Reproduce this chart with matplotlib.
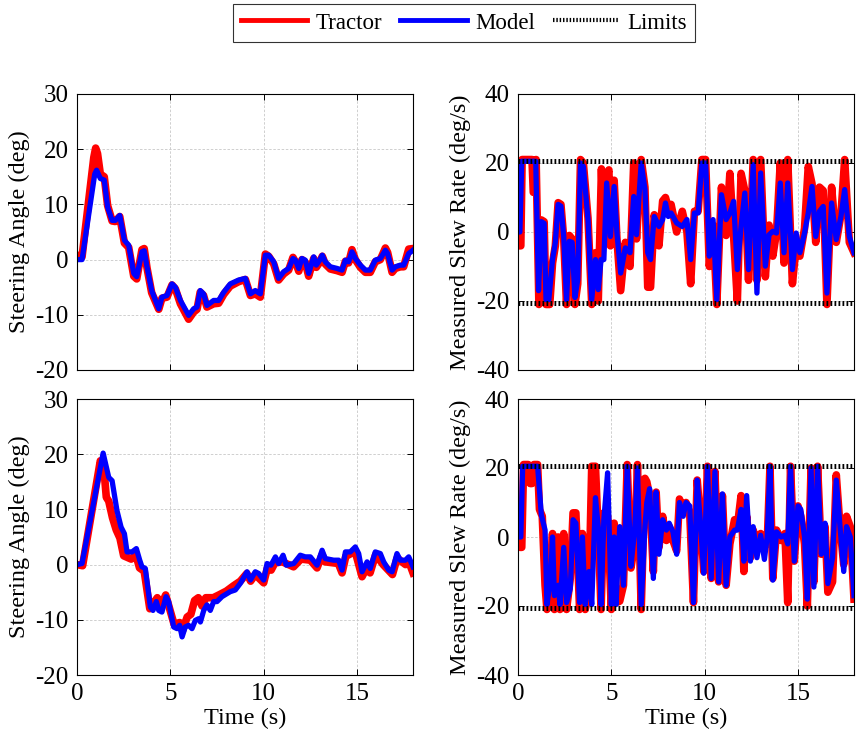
import matplotlib
matplotlib.use("Agg")
import matplotlib.pyplot as plt
from matplotlib.lines import Line2D

plt.rcParams['font.family'] = ['Liberation Serif', 'DejaVu Serif']
plt.rcParams['font.size'] = 16
plt.rcParams['axes.unicode_minus'] = False

# ---- Run 1: steering angle (deg) ----
r1_tractor_t = [0, 0.27, 0.9, 1.0, 1.1, 1.25, 1.46, 1.64, 1.88, 2.05, 2.29, 2.54, 2.77, 3.04, 3.2,
                3.48, 3.6, 3.75, 4.0, 4.38, 4.55, 4.82, 5.09, 5.27, 5.54, 5.98, 6.25, 6.43, 6.6,
                6.78, 6.96, 7.32, 7.59, 7.86, 8.21, 8.66, 9.02, 9.29, 9.55, 9.82, 10.09, 10.27,
                10.54, 10.8, 11.07, 11.34, 11.57, 11.7, 11.88, 12.05, 12.23, 12.41, 12.68, 12.82,
                13.0, 13.14, 13.3, 13.57, 13.93, 14.2, 14.38, 14.55, 14.73, 14.91, 15.18, 15.45,
                15.71, 15.98, 16.25, 16.52, 16.64, 16.88, 17.05, 17.32, 17.5, 17.77, 18.0]
r1_tractor = [0.8, 0.5, 18.5, 20.2, 19.2, 15.5, 15.0, 9.8, 7.0, 6.9, 7.8, 3.0, 2.2, -3.0, -3.5,
              1.8, 2.0, -1.5, -6.0, -9.0, -7.0, -6.8, -4.6, -5.3, -8.0, -10.8, -9.5, -9.0, -5.9,
              -6.5, -8.6, -8.0, -7.9, -6.3, -4.8, -4.0, -3.6, -6.5, -6.2, -6.8, 1.0, 0.6,
              -0.8, -3.7, -2.6, -1.9, 0.4, -0.4, -2.1, 0.0, -0.5, -3.0, 0.2, -1.4, -0.5, 0.6,
              -0.8, -1.7, -2.0, -2.3, -0.3, -0.6, 1.8, 0.0, -1.4, -2.3, -2.3, -0.4, 0.0, 2.1,
              1.3, -2.3, -1.6, -1.3, -1.3, 1.9, 2.0]
r1_model_t = [0, 0.27, 0.95, 1.05, 1.25, 1.46, 1.64, 1.88, 2.05, 2.29, 2.54, 2.77, 3.04, 3.2,
              3.48, 3.6, 3.75, 4.0, 4.38, 4.55, 4.82, 5.09, 5.27, 5.54, 5.98, 6.25, 6.43, 6.6,
              6.78, 6.96, 7.32, 7.59, 7.86, 8.21, 8.66, 9.02, 9.29, 9.55, 9.82, 10.09, 10.27,
              10.54, 10.8, 11.07, 11.34, 11.57, 11.7, 11.88, 12.05, 12.23, 12.41, 12.68, 12.82,
              13.0, 13.14, 13.3, 13.57, 13.93, 14.2, 14.38, 14.55, 14.73, 14.91, 15.18, 15.45,
              15.71, 15.98, 16.25, 16.52, 16.64, 16.88, 17.05, 17.32, 17.5, 17.77, 18.0]
r1_model = [0, 0, 15.5, 16.2, 14.7, 14.4, 9.5, 7.1, 7.1, 8.0, 3.5, 2.6, -2.5, -3.1,
            1.4, 1.6, -1.3, -5.6, -8.9, -6.8, -6.5, -4.4, -5.0, -7.4, -10.1, -8.9, -8.6, -5.6,
            -6.2, -8.3, -7.4, -7.4, -5.9, -4.4, -3.7, -3.4, -6.2, -5.6, -6.2, 0.8, 0.8,
            -0.4, -3.4, -2.2, -1.6, 0.2, -0.1, -1.6, 0.2, -0.1, -2.5, 0.5, -1.0,
            -0.1, 0.8, -0.4, -1.3, -1.6, -1.9, -0.1, -0.4, 1.4, 0.2, -1.0, -1.9,
            -1.9, -0.1, 0.2, 1.7, 1.1, -1.9, -1.3, -1.0, -1.0, 1.1, 1.7]

# ---- Run 2: steering angle (deg) ----
r2_tractor_t = [0, 0.3, 1.25, 1.45, 1.57, 1.7, 1.9, 2.1, 2.3, 2.5, 2.9, 3.15, 3.35, 3.6, 3.9,
                4.1, 4.3, 4.5, 4.75, 5.2, 5.5, 5.65, 5.9, 6.1, 6.3, 6.5, 6.7, 6.9, 7.3, 7.6,
                8.0, 8.4, 8.75, 9.1, 9.3, 9.55, 10.0, 10.2, 10.4, 10.6, 11.0, 11.6, 12.0, 12.5,
                12.86, 13.13, 13.3, 14.0, 14.2, 14.4, 14.9, 15.27, 15.54, 15.7, 16.0, 16.4,
                16.9, 17.15, 17.6, 17.77, 18.0]
r2_tractor = [0, -0.2, 18.8, 17.0, 12.2, 11.5, 8.5, 6.3, 4.8, 1.6, 1.0, 1.8, -0.6, -1.2, -8.0,
              -7.0, -6.0, -7.5, -5.5, -10.8, -10.5, -12.0, -9.5, -9.0, -6.5, -6.0, -7.5, -6.0,
              -6.0, -5.5, -4.8, -3.8, -3.0, -1.6, -3.0, -1.8, -3.3, -0.6, -1.0, 0.3, 0.5, -0.4,
              1.0, 0.8, -0.6, 1.8, 0.5, 0.2, -1.5, 1.5, 2.4, -2.2, -0.4, -1.5, 1.8, 0.0,
              -1.8, 1.2, 0.0, 0.6, -1.5]
r2_model_t = [0, 0.27, 1.4, 1.7, 1.88, 2.14, 2.36, 2.54, 2.68, 2.95, 3.18, 3.36, 3.48, 3.66,
              3.93, 4.07, 4.25, 4.38, 4.55, 4.77, 4.91, 5.18, 5.36, 5.5, 5.63, 5.8, 5.98,
              6.16, 6.34, 6.52, 6.61, 6.79, 6.96, 7.14, 7.32, 7.5, 7.77, 8.21, 8.48, 8.75,
              9.11, 9.29, 9.55, 9.73, 10.0, 10.18, 10.39, 10.63, 10.8, 11.04, 11.21, 11.61,
              11.96, 12.23, 12.5, 12.86, 13.13, 13.3, 13.75, 14.02, 14.2, 14.38, 14.64, 14.91,
              15.09, 15.27, 15.54, 15.71, 15.98, 16.25, 16.43, 16.7, 16.88, 17.14, 17.32,
              17.59, 17.77, 18.0]
r2_model = [0, 0.2, 20.2, 15.8, 15.2, 9.8, 6.8, 5.6, 2.3, 2.3, 2.9, 0.8, -0.4, -0.7,
            -7.7, -8.3, -6.7, -8.3, -8.6, -5.8, -6.7, -11.3, -11.6, -11.0, -13.1, -11.3, -11.0,
            -11.6, -10.1, -9.8, -10.4, -8.3, -7.3, -8.3, -6.7, -6.7, -5.8, -4.9, -4.6, -3.4,
            -1.3, -2.8, -1.3, -1.6, -2.8, 0.2, -0.1, 1.4, 0.2, 1.7, -0.1, 0.2,
            1.7, 1.4, 1.4, -0.1, 2.6, 1.1, 0.8, 0.8, -1.0, 2.3, 2.3, 3.2,
            2.0, -1.3, 0.5, -0.7, 2.3, 2.0, 0.5, -1.0, -1.3, 2.0, 0.8,
            0.8, 1.4, -0.4]

# ---- Run 1: measured slew rate (deg/s) ----
s1_tractor_t = [0, 0.05, 0.15, 0.22, 0.6, 0.75, 0.82, 0.9, 0.97, 1.12, 1.25, 1.4, 1.5, 1.7,
                1.85, 2.0, 2.15, 2.3, 2.45, 2.6, 2.75, 2.9, 3.05, 3.2, 3.35, 3.5, 3.75, 3.95,
                4.15, 4.3, 4.47, 4.6, 4.75, 4.87, 4.95, 5.15, 5.3, 5.5, 5.75, 6.0, 6.2, 6.35,
                6.6, 6.8, 6.95, 7.1, 7.3, 7.55, 7.75, 7.9, 8.05, 8.2, 8.5, 8.8, 9.05, 9.25,
                9.45, 9.65, 9.85, 10.05, 10.25, 10.45, 10.65, 10.9, 11.15, 11.35, 11.55, 11.75,
                11.95, 12.15, 12.35, 12.6, 12.8, 13.0, 13.25, 13.45, 13.65, 13.85, 14.05, 14.25,
                14.45, 14.7, 14.9, 15.1, 15.35, 15.55, 15.75, 15.95, 16.15, 16.35, 16.55, 16.8,
                17.05, 17.3, 17.5, 17.75, 18.0]
s1_tractor = [0, -4, -4, 21, 21, 21, 11.5, 11.5, 21, -21, 3.5, 3, -21, -21,
              -9, -4, 8.5, 8, -2, -21, -1, -2, -21, -15, 21, 20, 4, -21,
              -6, -20, 18.3, -2, 16, 18, -4, 15, -2, -17, -3, -10, 20, -2,
              21, 13, -16, -16, 5, -4, 9, 10, 7, 8, 0, 6, 0, -15,
              6, 6, 21, 21, -10, 2, -21, 13, -1, 17, -1, -20,
              17, 12, -14, 21, -14, 21, -13, 2, -7, 0, 20, -9,
              21, -15, -4, -7, 1, 19, 14, -3, 13, 12, -21, 13,
              -3, 5, 21, -3, -6]
s1_model_t = [0, 0.1, 0.2, 0.5, 0.95, 1.1, 1.25, 1.4, 1.5, 1.65, 1.85, 2.0, 2.15, 2.3, 2.45,
              2.6, 2.75, 2.9, 3.05, 3.2, 3.35, 3.5, 3.75, 3.95, 4.15, 4.3, 4.45, 4.6, 4.75,
              4.95, 5.15, 5.3, 5.5, 5.75, 6.0, 6.2, 6.35, 6.6, 6.8, 6.95, 7.1, 7.3, 7.55,
              7.75, 7.9, 8.05, 8.2, 8.5, 8.8, 9.05, 9.25, 9.45, 9.65, 9.85, 10.05, 10.25,
              10.45, 10.65, 10.9, 11.15, 11.35, 11.55, 11.75, 11.95, 12.15, 12.35, 12.6, 12.8,
              13.0, 13.25, 13.45, 13.65, 13.85, 14.05, 14.25, 14.45, 14.7, 14.9, 15.1, 15.35,
              15.55, 15.75, 15.95, 16.15, 16.35, 16.55, 16.8, 17.05, 17.3, 17.5, 17.75, 18.0]
s1_model = [0, 0, 20.5, 20.5, 20.5, -17, 3, 2.5, -19.6, -19.6, -8, -3, 8, 7.5, -1.3,
            -19.6, -2.7, -3, -19, -13.8, 20, 19, 3.6, -19.6, -8, -16.7, -8, -8, 14.2,
            -1.3, 13.2, -0.3, -11.9, -4.6, -6, 10.3, -0.8, 20, 12.3, -6, -8, 4.5, 1.6,
            3.6, 8.4, 4.5, 5.5, 2.6, 1.6, 3.6, -8, 5.5, 5.5, 20, 20, -7,
            3.6, -19.6, 10.8, 3.6, 5.5, 8.9, -10.9, 1.6, 11.3, -10.9, 19.5, -17.7,
            17.1, -9.9, -0.8, 0.2, -0.3, 14.2, -6, 14.2, -10.9, -0.3, -6, -0.3,
            5.5, 13.2, -1.3, 6, 7.4, -17.7, 8.4, -2.2, 4.5, 12.3, -1.3, -6]

# ---- Run 2: measured slew rate (deg/s) ----
s2_tractor_t = [0, 0.1, 0.2, 0.3, 0.55, 0.65, 0.75, 0.85, 1.05, 1.15, 1.3, 1.45, 1.55, 1.75,
                1.85, 1.95, 2.15, 2.25, 2.45, 2.6, 2.8, 2.95, 3.1, 3.3, 3.45, 3.6, 3.8, 3.95,
                4.15, 4.35, 4.45, 4.6, 4.8, 5.0, 5.15, 5.25, 5.45, 5.65, 5.85, 6.05, 6.25, 6.4,
                6.6, 6.8, 6.9, 7.05, 7.25, 7.4, 7.55, 7.75, 7.95, 8.1, 8.3, 8.5, 8.65, 8.85,
                9.0, 9.2, 9.4, 9.6, 9.8, 9.95, 10.15, 10.35, 10.55, 10.75, 10.95, 11.15, 11.35,
                11.6, 11.75, 11.95, 12.1, 12.25, 12.45, 12.6, 12.8, 13.0, 13.2, 13.35, 13.5,
                13.65, 13.85, 14.1, 14.3, 14.45, 14.6, 14.8, 15.0, 15.15, 15.35, 15.5, 15.7,
                15.85, 16.05, 16.25, 16.45, 16.6, 16.85, 17.05, 17.25, 17.45, 17.6, 17.8, 18.0]
s2_tractor = [2, -3, -3, 21, 21, 15.5, 15.5, 21, 21, 8, 6, -14, -21, -8,
              1, -21, 0, -21, 1, -21, -12, 7, 7, -21, 1, -21, -16, 20.5,
              20.5, -6, -21, 7, 6, -21, 4, -19, -18.6, -14, 21, -9, -2, 21,
              -21, 17, 16, 12, -10, 13, -3, 6, -1, 3, -1, -4, 11, 8,
              10, 7, -19, 16.5, 3, -10, 20.5, -12, 19, -13, 12, -14, -2,
              5, 3, 12, -10, 6, -6, 2, -2, 1, -1, -2, 20.5,
              -12, 2, -1, 1, -19, 20.5, -7, 9, 6, -2, -20, 20,
              -13, 20.5, -5, 3, -16, -13, 18, 3, -8, 6, 3, -18]
s2_model_t = [0, 0.15, 0.25, 0.6, 0.9, 1.05, 1.25, 1.45, 1.55, 1.75, 1.85, 1.95, 2.15, 2.25,
              2.45, 2.6, 2.8, 2.95, 3.1, 3.3, 3.45, 3.6, 3.8, 3.95, 4.15, 4.35, 4.45, 4.6,
              4.8, 5.0, 5.15, 5.25, 5.45, 5.65, 5.85, 6.05, 6.25, 6.4, 6.6, 6.8, 6.9, 7.05,
              7.25, 7.4, 7.55, 7.75, 7.95, 8.1, 8.3, 8.5, 8.65, 8.85, 9.0, 9.2, 9.4, 9.6,
              9.8, 9.95, 10.15, 10.35, 10.55, 10.75, 10.95, 11.15, 11.35, 11.6, 11.75, 11.95,
              12.1, 12.25, 12.45, 12.6, 12.8, 13.0, 13.2, 13.35, 13.5, 13.65, 13.85, 14.1,
              14.3, 14.45, 14.6, 14.8, 15.0, 15.15, 15.35, 15.5, 15.7, 15.85, 16.05, 16.25,
              16.45, 16.6, 16.85, 17.05, 17.25, 17.45, 17.6, 17.8, 18.0]
s2_model = [0, 0, 20.5, 20.5, 20.5, 20.5, 6.4, 2, -19.6, -12, 0, -17, -14, -19.6,
            -3, -19, -15, 5, 4, -19, 0, -19.6, -10, -19.6, 11.4, 0, -19.6, 5,
            18.6, -19.6, 0, -19.6, 3, -14, 20.5, -8.5, 2, 20, -19.6, 3, 10, 14,
            -12, 13, -5, 5, 2, 4, 1.5, -5, 10, 6, 10, 9, -19, 16.5,
            2, -10.5, 20.5, -12, 19, -13, 12.5, -14, 0, 2, 2, 8,
            -7, 12, -7, 3, -6, 0.5, -6.5, 0, 20.5, -12.5, 1.5, 0,
            0.5, -2, 20.5, -7, 9, 8, 0, -18, 20, -14.5, 20.5, -5,
            4, -13.5, -6, 16.5, 3, -10, 3, 0, -17]

slew_limit = 20.6
time_ticks = [0, 5, 10, 15]

TRACTOR = '#ff0000'
MODEL = '#0000ff'

fig = plt.figure(figsize=(8.56, 7.38), dpi=100)
W, H = 856, 738


def add_axes(left, top, right, bottom):
    return fig.add_axes([left / W, 1 - bottom / H, (right - left) / W, (bottom - top) / H])


ax_tl = add_axes(77, 94, 413, 370)
ax_tr = add_axes(518, 94, 854, 370)
ax_bl = add_axes(77, 399, 413, 675)
ax_br = add_axes(518, 399, 854, 675)


def style(ax, ylim, yticks, ylabel, show_x):
    ax.set_xlim(0, 18)
    ax.set_ylim(*ylim)
    ax.set_yticks(yticks)
    ax.set_xticks(time_ticks)
    ax.grid(True, color='#c8c8c8', linestyle='--', linewidth=0.6, dashes=(3, 2))
    ax.tick_params(direction='in', top=True, right=True, length=4, width=0.7,
                   labelsize=18, pad=6)
    for s in ax.spines.values():
        s.set_linewidth(0.8)
    ax.set_ylabel(ylabel, fontsize=17.5, labelpad=4)
    if show_x:
        ax.set_xlabel('Time (s)', fontsize=17.5, labelpad=2)
    else:
        ax.set_xticklabels([])


lw_tractor = 5.5
lw_model = 3.8
limit_style = dict(color='black', linewidth=3.6, linestyle=(0, (0.35, 0.45)))

for ax, tt, tv, mt, mv in [(ax_tl, r1_tractor_t, r1_tractor, r1_model_t, r1_model),
                           (ax_bl, r2_tractor_t, r2_tractor, r2_model_t, r2_model)]:
    ax.plot(tt, tv, color=TRACTOR, linewidth=lw_tractor)
    ax.plot(mt, mv, color=MODEL, linewidth=lw_model)

for ax, tt, tv, mt, mv in [(ax_tr, s1_tractor_t, s1_tractor, s1_model_t, s1_model),
                           (ax_br, s2_tractor_t, s2_tractor, s2_model_t, s2_model)]:
    ax.plot(tt, tv, color=TRACTOR, linewidth=lw_tractor)
    ax.plot(mt, mv, color=MODEL, linewidth=lw_model)
    ax.plot([0, 18], [slew_limit, slew_limit], **limit_style)
    ax.plot([0, 18], [-slew_limit, -slew_limit], **limit_style)

style(ax_tl, (-20, 30), [-20, -10, 0, 10, 20, 30], 'Steering Angle (deg)', False)
style(ax_bl, (-20, 30), [-20, -10, 0, 10, 20, 30], 'Steering Angle (deg)', True)
style(ax_tr, (-40, 40), [-40, -20, 0, 20, 40], 'Measured Slew Rate (deg/s)', False)
style(ax_br, (-40, 40), [-40, -20, 0, 20, 40], 'Measured Slew Rate (deg/s)', True)

handles = [Line2D([], [], color=TRACTOR, linewidth=3.5),
           Line2D([], [], color=MODEL, linewidth=3.5),
           Line2D([], [], color='black', linewidth=3.0, linestyle=(0, (0.35, 0.45)))]
leg = fig.legend(handles, ['Tractor', 'Model', 'Limits'], loc='center',
                 bbox_to_anchor=(464 / W, 1 - 23 / H), ncol=3, frameon=True,
                 fancybox=False, edgecolor='black', fontsize=16.5, handlelength=2.9,
                 handletextpad=0.35, columnspacing=0.8, borderpad=0.35)
leg.get_frame().set_linewidth(0.8)

fig.savefig('out.png', dpi=100)
